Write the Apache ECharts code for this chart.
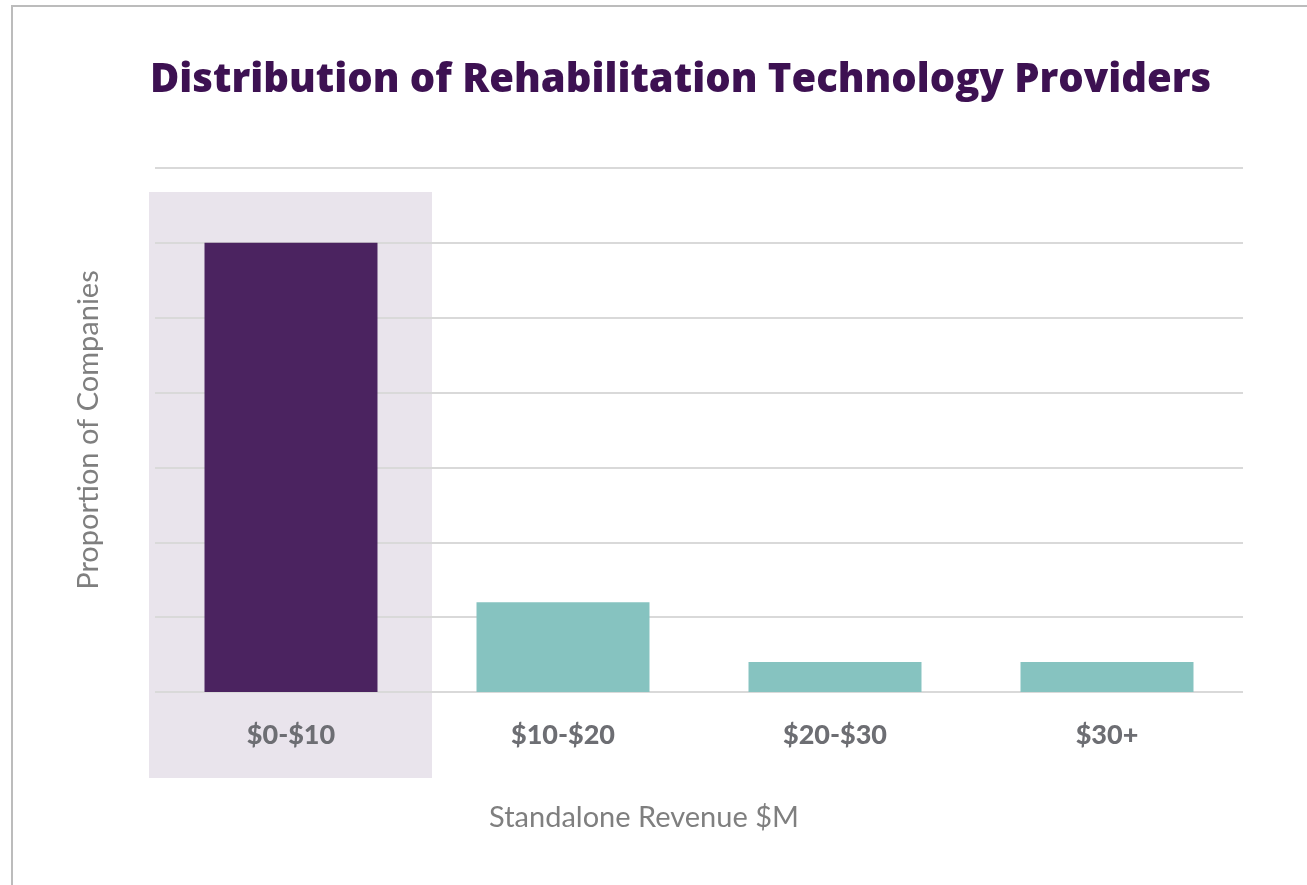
<!DOCTYPE html>
<html>
<head>
<meta charset="utf-8">
<script src="https://cdn.jsdelivr.net/npm/echarts@6/dist/echarts.min.js"></script>
<style>
  html, body { margin: 0; padding: 0; background: #fff; }
  #main { width: 1307px; height: 885px; position: relative; }
  #frame { position: absolute; left: 11px; top: 5px; right: -10px; bottom: -10px; border: 2px solid #bcbcbc; pointer-events: none; }
</style>
</head>
<body>
<div id="main"></div>
<div id="frame"></div>
<script>
var categories = ['$0-$10', '$10-$20', '$20-$30', '$30+'];
var values = [6, 1.2, 0.4, 0.4];
var highlightIndex = 0;

var chartDom = document.getElementById('main');
var myChart = echarts.init(chartDom);
var option;

option = {
  animation: false,
  title: {
    text: 'Distribution of Rehabilitation Technology Providers',
    left: 145,
    top: 56,
    textStyle: {
      fontFamily: 'Open Sans',
      fontWeight: 800,
      fontSize: 40,
      color: '#3d1152'
    }
  },
  grid: {
    left: 155,
    right: 64,
    top: 168,
    bottom: 193
  },
  xAxis: {
    type: 'category',
    data: categories,
    axisLine: { show: false },
    axisTick: { show: false },
    axisLabel: {
      margin: 30,
      fontFamily: 'Lato',
      fontWeight: 900,
      fontSize: 27,
      color: '#6d6e73'
    }
  },
  yAxis: {
    type: 'value',
    min: 0,
    max: 7,
    interval: 1,
    name: 'Proportion of Companies',
    nameLocation: 'middle',
    nameGap: 52,
    nameTextStyle: {
      fontFamily: 'Lato',
      fontSize: 29,
      color: '#7f7f7f'
    },
    axisLabel: { show: false },
    axisLine: { show: false },
    axisTick: { show: false },
    splitLine: { lineStyle: { color: '#d9d9d9', width: 2 } }
  },
  series: [
    {
      type: 'bar',
      barWidth: '63.6%',
      data: values.map(function (v, i) {
        return {
          value: v,
          itemStyle: { color: i === highlightIndex ? '#4b2360' : '#86c3c0' }
        };
      })
    }
  ]
};
myChart.setOption(option);

// shaded band behind the highlighted category, placed from the axis scales
var bandCenter = myChart.convertToPixel({ xAxisIndex: 0 }, highlightIndex);
var bandNext = myChart.convertToPixel({ xAxisIndex: 0 }, highlightIndex + 1);
var bandWidth = bandNext - bandCenter;
var bandTop = myChart.convertToPixel({ yAxisIndex: 0 }, 6.68);
var bandBase = myChart.convertToPixel({ yAxisIndex: 0 }, 0);

myChart.setOption({
  graphic: [
    {
      type: 'rect',
      z: -1,
      silent: true,
      shape: {
        x: bandCenter - bandWidth / 2 - 6,
        y: bandTop,
        width: bandWidth + 11,
        height: bandBase - bandTop + 86
      },
      style: { fill: 'rgba(75,35,96,0.12)' }
    },
    {
      type: 'text',
      x: 644,
      y: 818,
      silent: true,
      style: {
        text: 'Standalone Revenue $M',
        align: 'center',
        verticalAlign: 'middle',
        font: '29px Lato',
        fill: '#7f7f7f'
      }
    }
  ]
});
</script>
</body>
</html>
